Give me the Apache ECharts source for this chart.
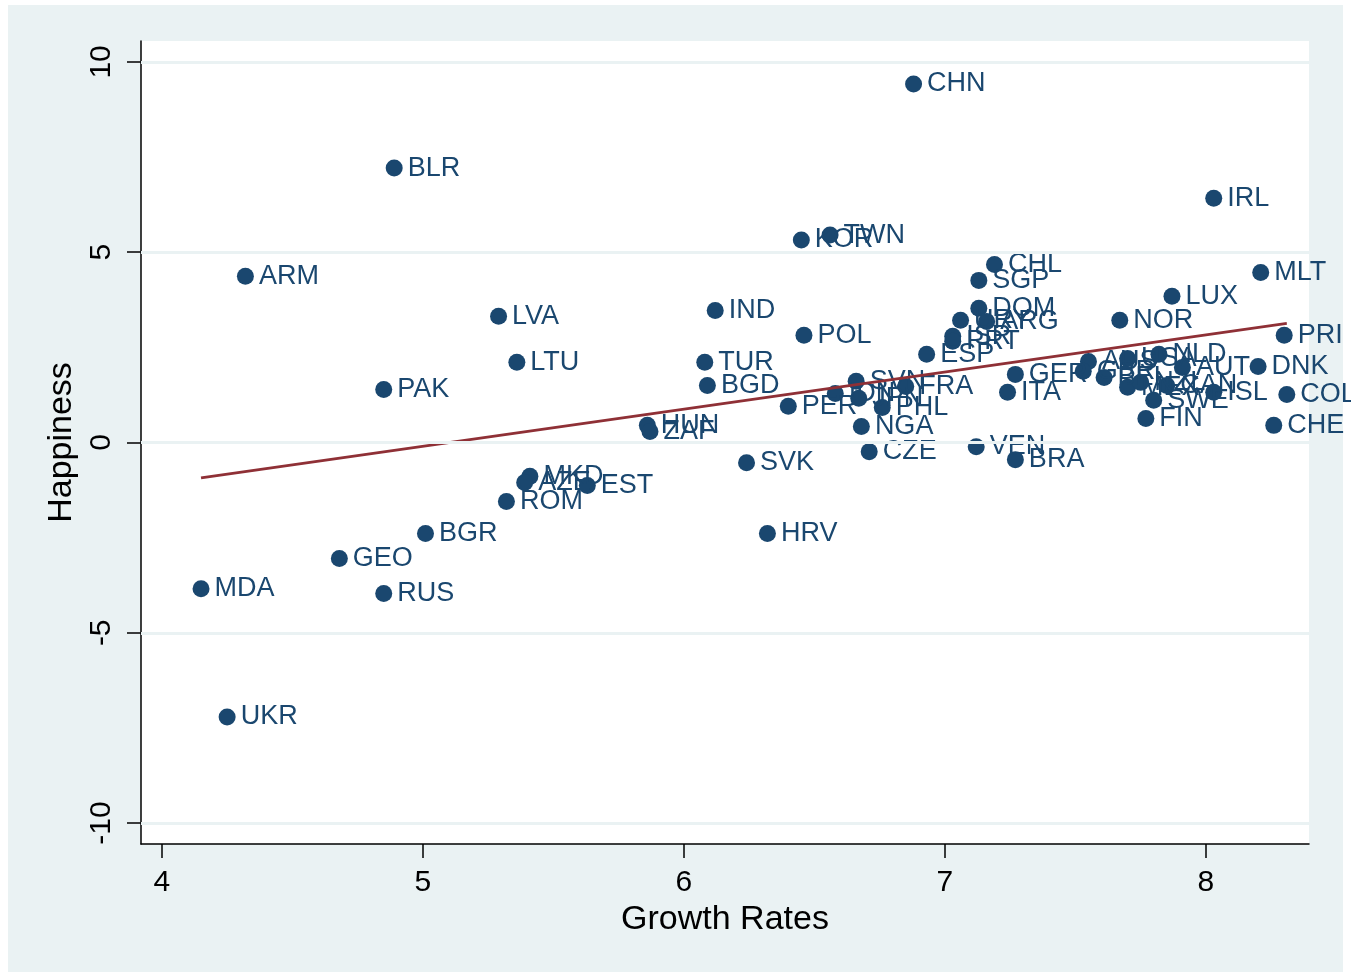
<!DOCTYPE html>
<html>
<head>
<meta charset="utf-8">
<title>Happiness and Growth Rates</title>
<script src="https://cdn.jsdelivr.net/npm/echarts@6/dist/echarts.min.js"></script>
<style>
  html, body { margin: 0; padding: 0; background: #ffffff; }
  #chart { width: 1351px; height: 975px; }
</style>
</head>
<body>
<div id="chart"></div>
<script>
// Country codes, growth rates and happiness scores
const countries = ['CHN','BLR','IRL','KOR','TWN','ARM','MLT','CHL','SGP','LUX','LVA','IND','DOM','URY','ARG','ISR','PRT','ESP','POL','NOR','PRI','TUR','LTU','PAK','BGD',
  'AUS','GBR','BEL','USA','NLD','AUT','MEX','NZL','CAN','SWE','ISL','FIN','DNK','COL','CHE','GER','ITA','VEN','BRA','CZE','NGA','PHL','JPN','IDN','SVN','FRA','PER',
  'SVK','HRV','HUN','ZAF','MKD','AZE','EST','ROM','BGR','GEO','RUS','MDA','UKR'];
const growth = [6.88,4.89,8.03,6.45,6.56,4.32,8.21,7.19,7.13,7.87,5.29,6.12,7.13,7.06,7.16,7.03,7.03,6.93,6.46,7.67,8.30,6.08,5.36,4.85,6.09,
  7.55,7.53,7.61,7.70,7.82,7.91,7.70,7.75,7.85,7.80,8.03,7.77,8.20,8.31,8.26,7.27,7.24,7.12,7.27,6.71,6.68,6.76,6.67,6.58,6.66,6.85,6.40,
  6.24,6.32,5.86,5.87,5.41,5.39,5.63,5.32,5.01,4.68,4.85,4.15,4.25];
const happiness = [9.42,7.21,6.42,5.32,5.45,4.37,4.47,4.68,4.26,3.84,3.32,3.47,3.53,3.21,3.18,2.79,2.66,2.32,2.82,3.21,2.82,2.11,2.11,1.39,1.50,
  2.13,1.87,1.71,2.21,2.32,1.97,1.45,1.58,1.50,1.11,1.32,0.63,2.00,1.26,0.45,1.79,1.32,-0.11,-0.45,-0.24,0.42,0.92,1.16,1.29,1.61,1.47,0.95,
  -0.53,-2.39,0.45,0.29,-0.89,-1.05,-1.13,-1.55,-2.39,-3.05,-3.97,-3.84,-7.21];

// Fitted line end points
const fitGrowth = [4.15, 8.31];
const fitHappiness = [-0.93, 3.13];

// Axis ticks
const xTicks = [4, 5, 6, 7, 8];
const yTicks = [-10, -5, 0, 5, 10];

const navy = '#1a476f';
const points = countries.map((c, i) => ({ name: c, value: [growth[i], happiness[i]] }));
const fitLine = fitGrowth.map((g, i) => [g, fitHappiness[i]]);

const chart = echarts.init(document.getElementById('chart'), null, { renderer: 'canvas' });
chart.setOption({
  backgroundColor: '#ffffff',
  animation: false,
  graphic: [{
    type: 'rect', z: -10, silent: true,
    shape: { x: 8, y: 5, width: 1335, height: 967 },
    style: { fill: '#eaf2f3' }
  }],
  grid: {
    left: 141, top: 41, right: 42, bottom: 131,
    show: true, backgroundColor: '#ffffff', borderWidth: 0
  },
  xAxis: {
    type: 'value', min: 3.92, max: 8.395,
    name: 'Growth Rates', nameLocation: 'middle', nameGap: 56,
    nameTextStyle: { color: '#000', fontSize: 34, fontFamily: 'Liberation Sans' },
    axisLine: { show: true, onZero: false, lineStyle: { color: '#000', width: 1.5 } },
    axisTick: { show: true, customValues: xTicks, length: 14, inside: false, lineStyle: { color: '#000', width: 1.5 } },
    axisLabel: { customValues: xTicks, color: '#000', fontSize: 30, fontFamily: 'Liberation Sans', margin: 24 },
    splitLine: { show: false }
  },
  yAxis: {
    type: 'value', min: -10.55, max: 10.55,
    name: 'Happiness', nameLocation: 'middle', nameGap: 58, nameRotate: 90,
    nameTextStyle: { color: '#000', fontSize: 34, fontFamily: 'Liberation Sans' },
    axisLine: { show: true, onZero: false, lineStyle: { color: '#000', width: 1.5 } },
    axisTick: { show: true, customValues: yTicks, length: 14, inside: false, lineStyle: { color: '#000', width: 1.5 } },
    axisLabel: { customValues: yTicks, rotate: 90, color: '#000', fontSize: 30, fontFamily: 'Liberation Sans', margin: 24 },
    splitLine: { show: false }
  },
  series: [
    {
      // horizontal grid lines at the labelled ticks
      type: 'line', data: [], silent: true, z: 1,
      markLine: {
        silent: true, symbol: ['none', 'none'], label: { show: false },
        lineStyle: { color: '#eaf2f3', width: 3, type: 'solid' },
        data: yTicks.map(v => ({ yAxis: v }))
      }
    },
    {
      type: 'scatter', data: points, z: 3,
      symbol: 'circle', symbolSize: 17,
      itemStyle: { color: navy, opacity: 1 },
      label: {
        show: true, position: 'right', distance: 5, offset: [0, 3],
        formatter: p => p.name,
        color: navy, fontSize: 27, fontFamily: 'Liberation Sans'
      },
      labelLayout: { hideOverlap: false }
    },
    {
      type: 'line', data: fitLine, z: 4,
      showSymbol: false, symbol: 'none',
      lineStyle: { color: '#8f3036', width: 2.8 }
    }
  ]
});
</script>
</body>
</html>
